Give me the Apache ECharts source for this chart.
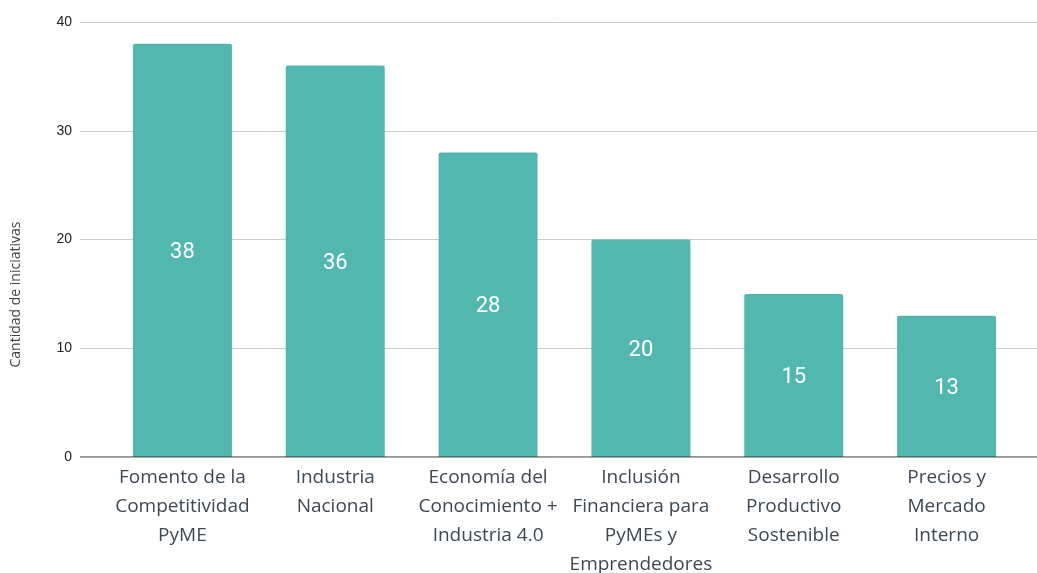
<!DOCTYPE html>
<html>
<head>
<meta charset="utf-8">
<script src="https://cdn.jsdelivr.net/npm/echarts@6/dist/echarts.min.js"></script>
<style>
  html, body { margin: 0; padding: 0; background: #fff; }
  #chart { width: 1037px; height: 573px; }
</style>
</head>
<body>
<div id="chart"></div>
<script>
const categories = [
  "Fomento de la\nCompetitividad\nPyME",
  "Industria\nNacional",
  "Economía del\nConocimiento +\nIndustria 4.0",
  "Inclusión\nFinanciera para\nPyMEs y\nEmprendedores",
  "Desarrollo\nProductivo\nSostenible",
  "Precios y\nMercado\nInterno"
];
const iniciativas = [38, 36, 28, 20, 15, 13];
const yTicks = [0, 10, 20, 30, 40];

const chart = echarts.init(document.getElementById("chart"));

const option = {
  animation: false,
  grid: [
    // background grid: gridlines + y labels, spans full width
    { left: 80, right: 0, top: 22, bottom: 116, outerBoundsMode: "none" },
    // bars
    { left: 106, right: 14, top: 22, bottom: 116, outerBoundsMode: "none" }
  ],
  xAxis: [
    {
      gridIndex: 0,
      type: "value",
      show: false,
      min: 0,
      max: 1
    },
    {
      gridIndex: 1,
      type: "category",
      data: categories,
      axisTick: { show: false },
      axisLine: { show: false },
      axisLabel: {
        interval: 0,
        margin: 6,
        fontFamily: "Open Sans",
        fontSize: 19,
        lineHeight: 29,
        color: "#3d4852"
      }
    }
  ],
  yAxis: [
    {
      gridIndex: 0,
      type: "value",
      min: yTicks[0],
      max: yTicks[yTicks.length - 1],
      interval: 10,
      name: "Cantidad de iniciativas",
      nameLocation: "middle",
      nameGap: 57,
      nameTextStyle: {
        fontFamily: "Open Sans",
        fontSize: 14,
        color: "#444",
        padding: [0, 110, 0, 0]
      },
      axisLine: { show: false },
      axisTick: { show: false },
      axisLabel: {
        margin: 8,
        fontFamily: "Liberation Sans",
        fontSize: 14,
        color: "#222"
      },
      splitLine: { lineStyle: { color: "#cccccc", width: 1 } }
    },
    {
      gridIndex: 1,
      type: "value",
      min: yTicks[0],
      max: yTicks[yTicks.length - 1],
      interval: 10,
      show: false,
      splitLine: { show: false }
    }
  ],
  series: [
    {
      // zero baseline across the full width
      type: "line",
      xAxisIndex: 0,
      yAxisIndex: 0,
      data: [[0, 0], [1, 0]],
      symbol: "none",
      silent: true,
      lineStyle: { color: "#333", width: 1.2 },
      z: 5
    },
    {
      type: "bar",
      xAxisIndex: 1,
      yAxisIndex: 1,
      data: iniciativas,
      barWidth: 99,
      itemStyle: {
        color: "#52b8af",
        borderRadius: [2, 2, 0, 0]
      },
      label: {
        show: true,
        position: "inside",
        offset: [0, 2],
        fontFamily: "Roboto",
        fontSize: 22,
        color: "#ffffff"
      },
      z: 3
    }
  ]
};

chart.setOption(option);
</script>
</body>
</html>
